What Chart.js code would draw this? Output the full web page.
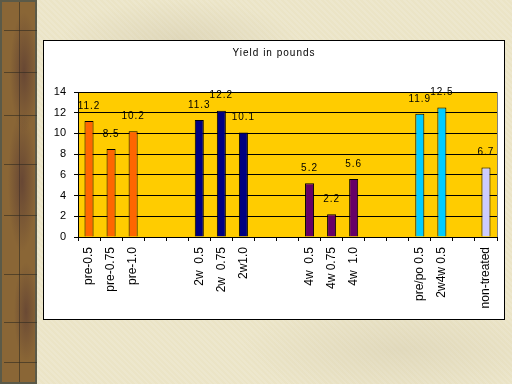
<!DOCTYPE html>
<html>
<head>
<meta charset="utf-8">
<script src="https://cdn.jsdelivr.net/npm/chart.js@4"></script>
<style>
  html, body { margin: 0; padding: 0; width: 512px; height: 384px; overflow: hidden; }
  body {
    position: relative;
    background-color: #ebe4c6;
    background-image:
      radial-gradient(ellipse 120px 40px at 180px 40px, rgba(200,190,160,0.35), rgba(0,0,0,0)),
      radial-gradient(ellipse 160px 50px at 400px 350px, rgba(205,195,165,0.35), rgba(0,0,0,0)),
      repeating-linear-gradient(45deg, rgba(255,255,255,0.12) 0 2px, rgba(0,0,0,0) 2px 4px);
  }
  #strip {
    position: absolute; left: 0; top: 0; width: 37px; height: 384px; box-sizing: border-box;
    border: 2px solid #5b5a48;
    background-color: #8a6636;
    background-image:
      radial-gradient(ellipse 14px 60px at 22px 70px, rgba(80,50,50,0.6), rgba(0,0,0,0)),
      radial-gradient(ellipse 14px 70px at 20px 180px, rgba(80,50,50,0.6), rgba(0,0,0,0)),
      radial-gradient(ellipse 12px 50px at 24px 310px, rgba(80,50,50,0.55), rgba(0,0,0,0)),
      linear-gradient(rgba(46,42,32,0.6), rgba(46,42,32,0.6));
    background-size: auto, auto, auto, 1px 100%;
    background-repeat: no-repeat, no-repeat, no-repeat, no-repeat;
    background-position: 0 0, 0 0, 0 0, 17px 0;
  }
  .hl { position: absolute; left: 2px; width: 33px; height: 1px; background: rgba(46,42,32,0.6); }
  #box {
    position: absolute; left: 43px; top: 40px; width: 462px; height: 280px;
    box-sizing: border-box; background: #ffffff; border: 1px solid #000000;
  }
  #c { position: absolute; left: 0; top: 0; }
</style>
</head>
<body>
<div id="strip">
  <div class="hl" style="top:28px"></div>
  <div class="hl" style="top:70px"></div>
  <div class="hl" style="top:113px"></div>
  <div class="hl" style="top:162px"></div>
  <div class="hl" style="top:213px"></div>
  <div class="hl" style="top:272px"></div>
  <div class="hl" style="top:320px"></div>
  <div class="hl" style="top:360px"></div>
</div>
<div id="box"></div>
<canvas id="c" width="512" height="384"></canvas>
<script>
const chartTitle = 'Yield in pounds';
const categories = ['pre-0.5', 'pre-0.75', 'pre-1.0', '', '',
  '2w  0.5', '2w  0.75', '2w1.0', '', '',
  '4w  0.5', '4w 0.75', '4w  1.0', '', '',
  'pre/po 0.5', '2w4w 0.5', '', 'non-treated'];
const yields = [11.2, 8.5, 10.2, null, null,
  11.3, 12.2, 10.1, null, null,
  5.2, 2.2, 5.6, null, null,
  11.9, 12.5, null, 6.7];
const groups = ['pre', 'pre', 'pre', '', '',
  '2w', '2w', '2w', '', '',
  '4w', '4w', '4w', '', '',
  'mix', 'mix', '', 'none'];
const yTicks = [0, 2, 4, 6, 8, 10, 12, 14];

const groupColors = { pre: '#ff6600', '2w': '#000080', '4w': '#660066', mix: '#00ccff', none: '#ccccff', '': '#000000' };
const FONT = 'Liberation Sans, Arial, sans-serif';

const decor = {
  id: 'decor',
  beforeDraw(chart) {
    const { ctx, chartArea: a } = chart;
    ctx.save();
    ctx.fillStyle = '#ffcc00';
    ctx.fillRect(a.left, a.top, a.right - a.left, a.bottom - a.top);
    ctx.restore();
  },
  afterDraw(chart) {
    const { ctx, chartArea: a } = chart;
    ctx.save();
    ctx.strokeStyle = '#808080';
    ctx.lineWidth = 1;
    ctx.beginPath();
    ctx.moveTo(Math.round(a.right) + 0.5, Math.round(a.top));
    ctx.lineTo(Math.round(a.right) + 0.5, Math.round(a.bottom));
    ctx.stroke();
    ctx.fillStyle = '#000';
    ctx.font = '10px ' + FONT;
    ctx.letterSpacing = '1px';
    ctx.textAlign = 'center';
    ctx.textBaseline = 'middle';
    ctx.fillText(chartTitle, 274, 53);
    ctx.restore();
  },
  afterDatasetsDraw(chart) {
    const { ctx } = chart;
    const meta = chart.getDatasetMeta(0);
    ctx.save();
    ctx.fillStyle = '#000';
    ctx.font = '10px ' + FONT;
    ctx.letterSpacing = '1px';
    ctx.textAlign = 'center';
    ctx.textBaseline = 'bottom';
    meta.data.forEach((bar, i) => {
      const v = yields[i];
      if (v === null || v === undefined) return;
      ctx.fillText(v.toFixed(1), bar.x, bar.y - 10);
    });
    ctx.restore();
  }
};

new Chart(document.getElementById('c'), {
  type: 'bar',
  data: {
    labels: categories,
    datasets: [{
      data: yields,
      backgroundColor: groups.map(g => groupColors[g]),
      borderColor: '#000000',
      borderWidth: 1,
      barPercentage: 0.41,
      categoryPercentage: 1.0
    }]
  },
  options: {
    responsive: false,
    devicePixelRatio: 1,
    animation: false,
    layout: { padding: { top: 92, right: 15, left: 0, bottom: 0 } },
    plugins: { legend: { display: false }, title: { display: false }, tooltip: { enabled: false } },
    scales: {
      x: {
        offset: true,
        afterFit(s) { s.height = 147; },
        grid: { display: true, drawOnChartArea: false, color: '#000', tickLength: 4, offset: true },
        border: { display: true, color: '#000', width: 1 },
        ticks: { autoSkip: false, maxRotation: 90, minRotation: 90, padding: 6, color: '#000', font: { family: FONT, size: 12 } }
      },
      y: {
        min: 0, max: 14,
        afterFit(s) { s.width = 78; },
        afterBuildTicks(s) { s.ticks = yTicks.map(v => ({ value: v })); },
        grid: { color: c => (c.tick && c.tick.value === 14 && c.type !== 'tick') ? '#808080' : '#000', tickLength: 4 },
        border: { display: true, color: '#000', width: 1 },
        ticks: { padding: 8, color: '#000', font: { family: FONT, size: 11 } }
      }
    }
  },
  plugins: [decor]
});
</script>
</body>
</html>
